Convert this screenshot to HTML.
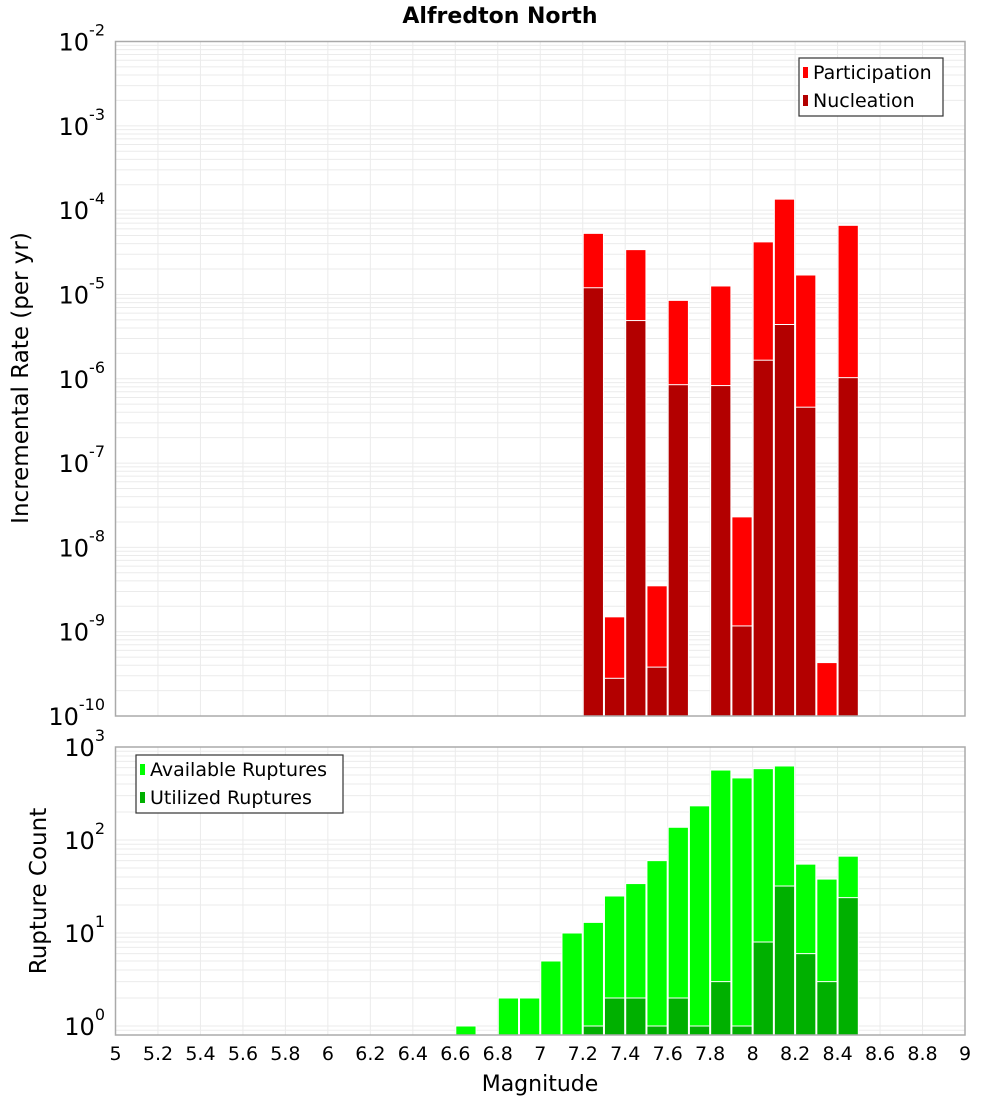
<!DOCTYPE html>
<html><head><meta charset="utf-8"><style>
body{margin:0;background:#fff;}
svg{display:block;font-family:"Liberation Sans","DejaVu Sans",sans-serif;}
</style></head><body>
<svg id="c" width="1000" height="1100" xmlns="http://www.w3.org/2000/svg">
<text x="500" y="23" text-anchor="middle" font-size="22" font-weight="bold" font-family="DejaVu Sans, sans-serif">Alfredton North</text>
<text transform="translate(28,378) rotate(-90)" text-anchor="middle" font-size="23" font-family="DejaVu Sans, sans-serif">Incremental Rate (per yr)</text>
<text transform="translate(46,891) rotate(-90)" text-anchor="middle" font-size="23" font-family="DejaVu Sans, sans-serif">Rupture Count</text>
<text x="540" y="1091" text-anchor="middle" font-size="22" font-family="DejaVu Sans, sans-serif">Magnitude</text>
<g id="g"></g>
</svg>
<script>
const mags = [7.2,7.3,7.4,7.5,7.6,7.8,7.9,8.0,8.1,8.2,8.3,8.4];
const participation = [5.3e-5,1.5e-9,3.4e-5,3.5e-9,8.5e-6,1.26e-5,2.3e-8,4.2e-5,1.35e-4,1.7e-5,4.3e-10,6.6e-5];
const nucleation = [1.2e-5,2.8e-10,4.9e-6,3.8e-10,8.5e-7,8.3e-7,1.17e-9,1.66e-6,4.4e-6,4.6e-7,0,1.03e-6];
const countMags = [6.6,6.8,6.9,7.0,7.1,7.2,7.3,7.4,7.5,7.6,7.7,7.8,7.9,8.0,8.1,8.2,8.3,8.4];
const available = [1,2,2,5,10,13,25,34,60,137,233,565,465,585,625,55,38,67];
const utilized = [0,0,0,0,0,1,2,2,1,2,1,3,1,8,32,6,3,24];
const xTicks = ["5","5.2","5.4","5.6","5.8","6","6.2","6.4","6.6","6.8","7","7.2","7.4","7.6","7.8","8","8.2","8.4","8.6","8.8","9"];
const topExps = [-2,-3,-4,-5,-6,-7,-8,-9,-10];
const botExps = [3,2,1,0];

const NS="http://www.w3.org/2000/svg";
const g=document.getElementById('g');
function el(t,a,p){const e=document.createElementNS(NS,t);for(const k in a)e.setAttribute(k,a[k]);(p||g).appendChild(e);return e;}
const X0=115.5,X1=965;
const x=m=>X0+(m-5)/4*(X1-X0);
const T0=41.5,T1=716,tMax=-2,tMin=-10;
const yT=v=>T0+(tMax-Math.log10(v))/(tMax-tMin)*(T1-T0);
const B0=747,B1=1035,dec=93;
const yB=v=>1026-Math.log10(v)*dec;

function panel(top,bot,yfn,lo,hi,name){
  const bg=el('rect',{x:X0,y:top,width:X1-X0,height:bot-top,fill:'#fff'});
  
  
  for(let e=lo;e<=hi;e++){for(let k=1;k<10;k++){const v=k*Math.pow(10,e);const yy=yfn(v);if(yy<top||yy>bot)continue;
    el('line',{x1:X0,x2:X1,y1:yy,y2:yy,stroke:'#ebebeb','stroke-width':1});}}
  for(let i=0;i<xTicks.length;i++){const xx=x(+xTicks[i]);el('line',{x1:xx,x2:xx,y1:top,y2:bot,stroke:'#ebebeb','stroke-width':1});}
}
panel(T0,T1,yT,-10,-2,'top');
panel(B0,B1,yB,-1,3,'bottom');

function bar(m,v,yfn,base,fill,name){
  if(!(v>0))return;
  const y0=yfn(v);
  const r=el('rect',{x:x(m)+0.5,y:y0,width:x(m+0.1)-x(m)-1,height:base-y0,fill:fill,stroke:'#fff','stroke-width':1});
  
  
}
mags.forEach((m,i)=>{bar(m,participation[i],yT,T1,'#ff0000','participation-bar');});
mags.forEach((m,i)=>{bar(m,nucleation[i],yT,T1,'#b30000','nucleation-bar');});
countMags.forEach((m,i)=>{bar(m,available[i],yB,B1,'#00ff00','available-bar');});
countMags.forEach((m,i)=>{bar(m,utilized[i],yB,B1,'#00b000','utilized-bar');});

el('rect',{x:X0,y:T0,width:X1-X0,height:T1-T0,fill:'none',stroke:'#aaa','stroke-width':1.5});
el('rect',{x:X0,y:B0,width:X1-X0,height:B1-B0,fill:'none',stroke:'#aaa','stroke-width':1.5});

function ylab(e,yy,name){
  const t=el('text',{x:105,y:yy+9,'text-anchor':'end','font-size':24,'font-family':'DejaVu Sans, sans-serif'});
  
  
  const a=document.createElementNS(NS,'tspan');a.textContent='10';t.appendChild(a);
  const b=document.createElementNS(NS,'tspan');b.setAttribute('dy','-15');b.setAttribute('font-size','16');b.textContent=String(e).replace('-','-');t.appendChild(b);
}
topExps.forEach(e=>ylab(e,yT(Math.pow(10,e)),'top-y-tick-label'));
botExps.forEach(e=>ylab(e,yB(Math.pow(10,e)),'bottom-y-tick-label'));
xTicks.forEach(s=>{const t=el('text',{x:x(+s),y:1060,'text-anchor':'middle','font-size':19,'font-family':'DejaVu Sans, sans-serif'});t.textContent=s;
  
  });

function legend(bx,by,w,items,name){
  const L=el('g',{});
  
  
  el('rect',{x:bx,y:by,width:w,height:58,fill:'#fff',stroke:'#333','stroke-width':1.2},L);
  items.forEach((it,i)=>{
    el('rect',{x:bx+4,y:by+9+i*28,width:5,height:11,fill:it[1]},L);
    const t=el('text',{x:bx+14,y:by+21+i*28,'font-size':19,'font-family':'DejaVu Sans, sans-serif'},L);t.textContent=it[0];
  });
}
legend(799,58,144,[['Participation','#ff0000'],['Nucleation','#b30000']],'top-legend');
legend(136,755,207,[['Available Ruptures','#00ff00'],['Utilized Ruptures','#00b000']],'bottom-legend');
</script>
</body></html>
